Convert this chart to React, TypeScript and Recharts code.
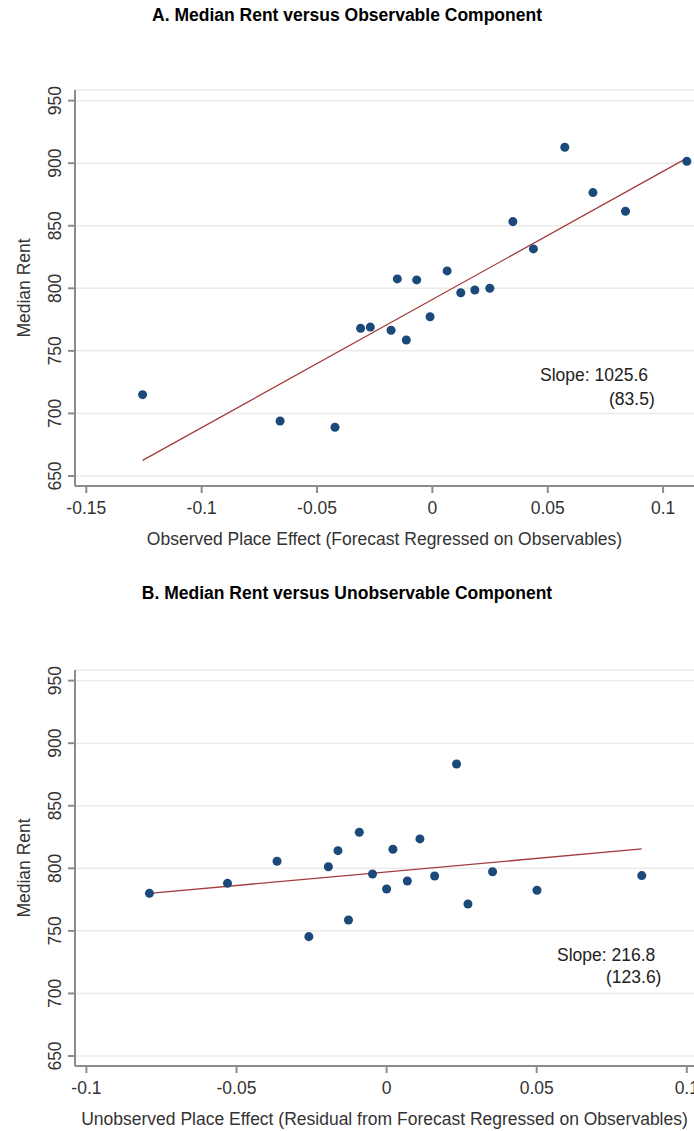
import { ScatterChart, Scatter, XAxis, YAxis, CartesianGrid } from "recharts";

// Panel A: median rent vs observed place effect
const obsEffect = [
  -0.1256, -0.066, -0.0422, -0.0311, -0.0269, -0.0179, -0.0152, -0.0113, -0.0068, -0.001,
  0.0064, 0.0123, 0.0184, 0.0249, 0.0349, 0.0438, 0.0574, 0.0696, 0.0837, 0.1103,
];
const obsRent = [
  715, 694, 689, 768, 769, 766.5, 807.5, 758.7, 806.7, 777.3,
  813.9, 796.5, 798.7, 800, 853.3, 831.5, 912.7, 876.5, 861.6, 901.5,
];
const obsFitX = [-0.1256, 0.1103];
const obsFitY = [662.5, 904];

// Panel B: median rent vs unobserved place effect
const unobsEffect = [
  -0.079, -0.053, -0.0365, -0.0259, -0.0194, -0.0162, -0.0127, -0.0091, -0.0047, 0,
  0.0021, 0.0069, 0.0111, 0.016, 0.0233, 0.0271, 0.0353, 0.0501, 0.085,
];
const unobsRent = [
  780, 788, 805.6, 745.4, 801.3, 814.1, 758.7, 828.8, 795.5, 783.5,
  815.2, 789.9, 823.5, 793.9, 883.4, 771.5, 797.3, 782.5, 794.2,
];
const unobsFitX = [-0.079, 0.085];
const unobsFitY = [780, 815.5];

const rentTicks = [650, 700, 750, 800, 850, 900, 950];
const obsTicks = [-0.15, -0.1, -0.05, 0, 0.05, 0.1];
const unobsTicks = [-0.1, -0.05, 0, 0.05, 0.1];

const zip = (xs: number[], ys: number[]) => xs.map((x, i) => ({ x, y: ys[i] }));

const DOT = "#1b4a7a";
const FIT = "#a33c3c";
const AXIS = "#8c8c8c";
const FS = 17.5;

function RentTick({ x, y, payload }: any) {
  return (
    <text
      x={x}
      y={y}
      dy="0.355em"
      transform={`rotate(-90 ${x} ${y})`}
      textAnchor="middle"
      fill="#333"
      fontSize={FS}
    >
      {payload.value}
    </text>
  );
}

function Panel({
  points,
  fit,
  xTicks,
  xDomain,
  xLabel,
  height,
  top,
  labelOffset,
}: {
  points: { x: number; y: number }[];
  fit: { x: number; y: number }[];
  xTicks: number[];
  xDomain: [number, number];
  xLabel: string;
  height: number;
  top: number;
  labelOffset: number;
}) {
  return (
    <ScatterChart width={694} height={height} margin={{ top, right: 0, bottom: 0, left: 0 }}>
      <CartesianGrid vertical={false} stroke="#ebebeb" strokeWidth={1.5} />
      <XAxis
        type="number"
        dataKey="x"
        domain={xDomain}
        ticks={xTicks}
        interval={0}
        allowDataOverflow
        height={height - top - 396}
        tickFormatter={(v) => String(v)}
        tick={{ fill: "#333", fontSize: FS }}
        stroke={AXIS}
        strokeWidth={2}
        tickSize={7}
        tickMargin={9}
        label={{ value: xLabel, position: "insideBottom", offset: labelOffset, fill: "#333", fontSize: FS }}
      />
      <YAxis
        type="number"
        dataKey="y"
        domain={[642, 958.5]}
        ticks={rentTicks}
        interval={0}
        allowDataOverflow
        width={75}
        tick={<RentTick />}
        stroke={AXIS}
        strokeWidth={2}
        tickSize={7}
        tickMargin={13}
        label={{
          value: "Median Rent",
          angle: -90,
          position: "insideLeft",
          offset: 24,
          fill: "#333",
          fontSize: FS,
          style: { textAnchor: "middle" },
        }}
      />
      <Scatter
        data={fit}
        line={{ stroke: FIT, strokeWidth: 1.3 }}
        shape={() => <g />}
        isAnimationActive={false}
      />
      <Scatter data={points} fill={DOT} isAnimationActive={false} />
    </ScatterChart>
  );
}

const textBase = {
  position: "absolute" as const,
  fontSize: FS,
  lineHeight: "20px",
  whiteSpace: "nowrap" as const,
};

export default function App() {
  return (
    <div
      style={{
        position: "absolute",
        left: 0,
        top: 0,
        width: 694,
        height: 1131,
        background: "#fff",
        fontFamily: "'Liberation Sans', Arial, Helvetica, sans-serif",
        overflow: "hidden",
      }}
    >
      <div style={{ ...textBase, top: 5, left: 0, width: 694, textAlign: "center", fontWeight: "bold", color: "#000" }}>
        A. Median Rent versus Observable Component
      </div>
      <div style={{ position: "absolute", left: 0, top: 0 }}>
        <Panel
          points={zip(obsEffect, obsRent)}
          fit={zip(obsFitX, obsFitY)}
          xTicks={obsTicks}
          xDomain={[-0.1549, 0.1134]}
          xLabel="Observed Place Effect (Forecast Regressed on Observables)"
          height={560}
          top={90}
          labelOffset={15}
        />
      </div>
      <div style={{ ...textBase, top: 365, left: 540, color: "#222" }}>Slope: 1025.6</div>
      <div style={{ ...textBase, top: 389, left: 609, color: "#222" }}>(83.5)</div>

      <div style={{ ...textBase, top: 583, left: 0, width: 694, textAlign: "center", fontWeight: "bold", color: "#000" }}>
        B. Median Rent versus Unobservable Component
      </div>
      <div style={{ position: "absolute", left: 0, top: 560 }}>
        <Panel
          points={zip(unobsEffect, unobsRent)}
          fit={zip(unobsFitX, unobsFitY)}
          xTicks={unobsTicks}
          xDomain={[-0.1038, 0.1024]}
          xLabel="Unobserved Place Effect (Residual from Forecast Regressed on Observables)"
          height={571}
          top={110}
          labelOffset={6}
        />
      </div>
      <div style={{ ...textBase, top: 945, left: 557, color: "#222" }}>Slope: 216.8</div>
      <div style={{ ...textBase, top: 967, left: 606, color: "#222" }}>(123.6)</div>
    </div>
  );
}
